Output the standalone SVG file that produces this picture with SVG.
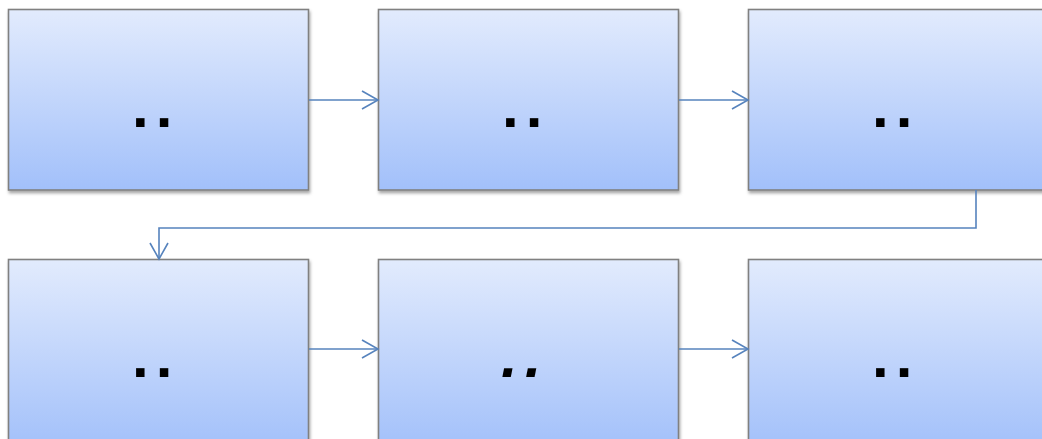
<svg xmlns="http://www.w3.org/2000/svg" width="1042" height="439" viewBox="0 0 1042 439">
<style>
.box{fill:url(#g);stroke:#808080;stroke-width:1.6;filter:url(#sh)}
.lbl{font-family:"Liberation Sans",Arial,sans-serif;font-weight:bold;font-size:60px;letter-spacing:7px;fill:#000}
.it{font-style:italic}
.con{fill:none;stroke:#5683bd;stroke-width:1.6;marker-end:url(#arr)}
</style>
<defs>
<linearGradient id="g" x1="0" y1="0" x2="0" y2="1">
<stop offset="0" stop-color="#e2ebfd"/>
<stop offset="1" stop-color="#a2c0fa"/>
</linearGradient>
<filter id="sh" x="-5%" y="-5%" width="110%" height="115%">
<feDropShadow dx="1" dy="2.5" stdDeviation="1.5" flood-color="#000" flood-opacity="0.35"/>
</filter>
<marker id="arr" markerWidth="20" markerHeight="22" refX="17" refY="10" orient="auto" markerUnits="userSpaceOnUse">
<path d="M1,1 L17,10 L1,19" fill="none" stroke="#5683bd" stroke-width="1.6"/>
</marker>
</defs>
<rect width="1042" height="439" fill="#fff"/>
<g id="node1"><rect class="box" x="8.5" y="9.5" width="300" height="180.5"/><text class="lbl" x="132" y="127">..</text></g>
<g id="node2"><rect class="box" x="378.5" y="9.5" width="300" height="180.5"/><text class="lbl" x="502" y="127">..</text></g>
<g id="node3"><rect class="box" x="748.5" y="9.5" width="300" height="180.5"/><text class="lbl" x="872" y="127">..</text></g>
<g id="node4"><rect class="box" x="8.5" y="259.5" width="300" height="190"/><text class="lbl" x="132" y="377">..</text></g>
<g id="node5"><rect class="box" x="378.5" y="259.5" width="300" height="190"/><text class="lbl it" x="501" y="377">..</text></g>
<g id="node6"><rect class="box" x="748.5" y="259.5" width="300" height="190"/><text class="lbl" x="872" y="377">..</text></g>
<g id="connectors">
<path class="con" d="M309,100 H378"/>
<path class="con" d="M679,100 H748"/>
<path class="con" d="M976,190 V228 H159 V259"/>
<path class="con" d="M309,349 H378"/>
<path class="con" d="M679,349 H748"/>
</g>
</svg>
